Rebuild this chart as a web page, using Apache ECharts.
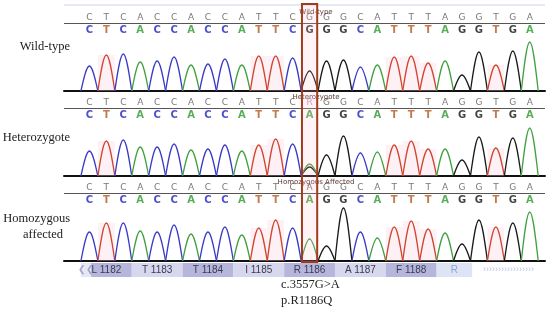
<!DOCTYPE html>
<html><head><meta charset="utf-8">
<script src="https://cdn.jsdelivr.net/npm/echarts@6/dist/echarts.min.js"></script>
<style>html,body{margin:0;padding:0;background:#fff}#c{width:550px;height:310px}</style>
</head><body><div id="c"></div>
<script>
// ---- data ----
const calledWT  = ['C','T','C','A','C','C','A','C','C','A','T','T','C','G','G','G','C','A','T','T','T','A','G','G','T','G','A'];
const calledHet = ['C','T','C','A','C','C','A','C','C','A','T','T','C','R','G','G','C','A','T','T','T','A','G','G','T','G','A'];
const calledHom = ['C','T','C','A','C','C','A','C','C','A','T','T','C','A','G','G','C','A','T','T','T','A','G','G','T','G','A'];
const boldWT  = ['C','T','C','A','C','C','A','C','C','A','T','T','C','G','G','G','C','A','T','T','T','A','G','G','T','G','A'];
const boldHet = ['C','T','C','A','C','C','A','C','C','A','T','T','C','A','G','G','C','A','T','T','T','A','G','G','T','G','A'];
const boldHom = ['C','T','C','A','C','C','A','C','C','A','T','T','C','A','G','G','C','A','T','T','T','A','G','G','T','G','A'];
// peak bases and heights
const peakBaseWT  = ['C','T','C','A','C','C','A','C','C','A','T','T','C','G','G','G','C','A','T','T','T','A','G','G','T','G','A'];
const peakWT      = [25,36,37,29,30,34,26,27,32,26,35,35,33,20,30,31,24,26,34,35,28,30,16,39,26,40,49];
const peakBaseHet = ['C','T','C','A','C','C','A','C','C','A','T','T','C','G','G','G','C','A','T','T','T','A','G','G','T','G','A'];
const peakHet     = [25,35,36,29,29,32,26,27,31,25,31,37,32,9,21,40,23,24,31,35,27,27,16,39,28,38,48];
const hetMinorPos  = [13];
const hetMinorBase = ['A'];
const hetMinorH    = [12];
const peakBaseHom = ['C','T','C','A','C','C','A','C','C','A','T','T','C','A','G','G','C','A','T','T','T','A','G','G','T','G','A'];
const peakHom     = [29,38,38,30,29,36,27,29,34,26,33,41,33,22,15,53,29,23,34,40,32,28,17,41,34,38,49];
const panelTitles = ['Wild-type','Heterozygote','Homozygous Affected'];
const rowLabels   = ['Wild-type','Heterozygote','Homozygous\naffected'];
const aminoAcids  = ['L 1182','T 1183','T 1184','I 1185','R 1186','A 1187','F 1188','R'];
const mutationText = ['c.3557G>A','p.R1186Q'];
const mutIndex = 13;

// ---- styling ----
const XMIN = -1.5, XMAX = 26.9, YMAX = 86;
const BASES = ['A','C','G','T'];
const peakColor = {A:'#3fa03f', C:'#3a3ac8', G:'#1a1a1a', T:'#d0452f'};
const boldColor = {A:'#2e9a2e', C:'#2323c0', G:'#111', T:'#b5561e'};
const callColor = {R:'#b070b8'};
const panelTops = [5, 90, 175];
const GL = 64, GW = 481;

const grids = [], xAxes = [], yAxes = [], series = [];
panelTops.forEach((t,k)=>{
  grids.push({left:GL, width:GW, top:t, height:YMAX});
  xAxes.push({type:'value', gridIndex:k, min:XMIN, max:XMAX, show:true,
    axisLine:{show:true, onZero:false, lineStyle:{color:'#111', width:2}},
    axisTick:{show:false}, axisLabel:{show:false}, splitLine:{show:false}});
  yAxes.push({type:'value', gridIndex:k, min:0, max:YMAX, show:false});
});
grids.push({left:GL, width:GW, top:263, height:14});
xAxes.push({type:'value', gridIndex:3, min:XMIN, max:XMAX, show:false});
yAxes.push({type:'value', gridIndex:3, min:0, max:1, show:false});

// sine-arch peak drawn through the axis scales
function renderPeak(params, api){
  const pos = api.value(0), h = api.value(1), base = BASES[api.value(2)];
  const L = api.coord([pos-0.5, 0]), P = api.coord([pos, h]), R = api.coord([pos+0.5, 0]);
  const wl = P[0]-L[0], wr = R[0]-P[0], dy = L[1]-P[1];
  const d = 'M'+L[0]+' '+L[1]+
    ' C'+(L[0]+0.334*wl)+' '+(L[1]-0.525*dy)+' '+(L[0]+0.66*wl)+' '+P[1]+' '+P[0]+' '+P[1]+
    ' C'+(P[0]+0.34*wr)+' '+P[1]+' '+(R[0]-0.334*wr)+' '+(R[1]-0.525*dy)+' '+R[0]+' '+R[1];
  return {type:'path', shape:{pathData:d}, style:{fill:'none', stroke:peakColor[base], lineWidth:1.3}};
}

const panels = [
  {called:calledWT, bold:boldWT, pb:peakBaseWT, ph:peakWT},
  {called:calledHet, bold:boldHet, pb:peakBaseHet, ph:peakHet},
  {called:calledHom, bold:boldHom, pb:peakBaseHom, ph:peakHom}
];
panels.forEach((p,k)=>{
  const shade = [];
  p.pb.forEach((b,i)=>{ if(b==='T') shade.push([{xAxis:i-0.5,yAxis:0},{xAxis:i+0.5,yAxis:p.ph[i]}]); });
  const pk = p.pb.map((b,i)=>[i, p.ph[i], BASES.indexOf(b)]);
  if(k===1) hetMinorPos.forEach((pos,j)=>pk.push([pos, hetMinorH[j], BASES.indexOf(hetMinorBase[j])]));
  series.push({type:'custom', xAxisIndex:k, yAxisIndex:k, silent:true, z:3, renderItem:renderPeak,
    encode:{x:0, y:1}, data:pk,
    markArea:{silent:true, itemStyle:{color:'rgba(250,205,218,0.28)'}, data:shade}});
  series.push({type:'scatter', xAxisIndex:k, yAxisIndex:k, symbolSize:0, silent:true, z:4,
    data:p.called.map((b,i)=>({value:[i,73], name:b, label:{color:callColor[b]||'#555'}})),
    label:{show:true, position:'inside', formatter:'{b}', fontSize:9, fontFamily:'DejaVu Sans'},
    markLine:{silent:true, symbol:'none', label:{show:false}, lineStyle:{color:'#555', width:1, type:'solid'},
      data:[[{coord:[XMIN,67.5]},{coord:[XMAX,67.5]}]]}
  });
  series.push({type:'scatter', xAxisIndex:k, yAxisIndex:k, symbolSize:0, silent:true, z:4,
    data:p.bold.map((b,i)=>({value:[i,61], name:b, label:{color:boldColor[b]}})),
    label:{show:true, position:'inside', formatter:'{b}', fontSize:10, fontWeight:'bold', fontFamily:'DejaVu Sans'}});
});
series.push({type:'line', xAxisIndex:0, yAxisIndex:0, data:[], silent:true,
  markLine:{silent:true, symbol:'none', label:{show:false}, lineStyle:{color:'#dfe3ee', width:1.5, type:'solid'},
    data:[[{coord:[XMIN,YMAX]},{coord:[XMAX,YMAX]}]]}});
const aaAreas = aminoAcids.map((name,j)=>{
  const s = 3*j - 0.5;
  const last = j===aminoAcids.length-1;
  const e = last ? 22.6 : s+3;
  return [{xAxis:s, yAxis:0, name:name,
      itemStyle:{color: last ? '#dde4f5' : (j%2===0 ? '#b6b6dc' : '#d7d7ee')},
      label:{color: last ? '#8ea4d8' : '#3a3a50'}},
    {xAxis:e, yAxis:1}];
});
aaAreas.push([{xAxis:-0.5, yAxis:0, name:'❮❮', itemStyle:{color:'#e6e6f4'}, label:{color:'#a0a4c8', fontSize:9}},{xAxis:0.1, yAxis:1}]);
aaAreas.push([{xAxis:22.6, yAxis:0, name:'›››››››››››››››››', itemStyle:{color:'rgba(255,255,255,0)'}, label:{color:'#b3c0e4', fontSize:9}},{xAxis:XMAX, yAxis:1}]);
series.push({type:'line', xAxisIndex:3, yAxisIndex:3, data:[], silent:true,
  markArea:{silent:true, label:{show:true, position:'inside', fontSize:10, fontFamily:'Liberation Sans'}, data:aaAreas}});

const serif = {fontSize:12.5, fontWeight:'normal', color:'#222', fontFamily:'Liberation Serif'};
const homLines = rowLabels[2].split('\n');
const titles = [];
panelTitles.forEach((t,k)=>titles.push({text:t, left:311, top:panelTops[k]-1, textAlign:'center',
  textStyle:{fontSize:7, fontWeight:'normal', color:'#5a3b33', fontFamily:'DejaVu Sans'}}));
titles.push({text:rowLabels[0], right:480, top:40, padding:0, textStyle:serif});
titles.push({text:rowLabels[1], right:480, top:131, padding:0, textStyle:serif});
titles.push({text:homLines[0], right:480, top:212, padding:0, textStyle:serif});
titles.push({text:homLines[1], left:43, top:228, padding:0, textAlign:'center', textStyle:serif});
titles.push({text:mutationText[0], left:281, top:278, padding:0, textStyle:serif});
titles.push({text:mutationText[1], left:281, top:294, padding:0, textStyle:serif});

const chart = echarts.init(document.getElementById('c'), null, {renderer:'canvas'});
chart.setOption({animation:false, title:titles, grid:grids, xAxis:xAxes, yAxis:yAxes, series:series});
const pTop = chart.convertToPixel({gridIndex:0}, [mutIndex-0.45, YMAX+1]);
const pBot = chart.convertToPixel({gridIndex:2}, [mutIndex+0.45, -1]);
chart.setOption({graphic:[{type:'rect', z:10, shape:{x:pTop[0], y:pTop[1], width:pBot[0]-pTop[0], height:pBot[1]-pTop[1]},
  style:{fill:'rgba(255,190,200,0.18)', stroke:'#a23a1e', lineWidth:2}}]});
</script></body></html>
